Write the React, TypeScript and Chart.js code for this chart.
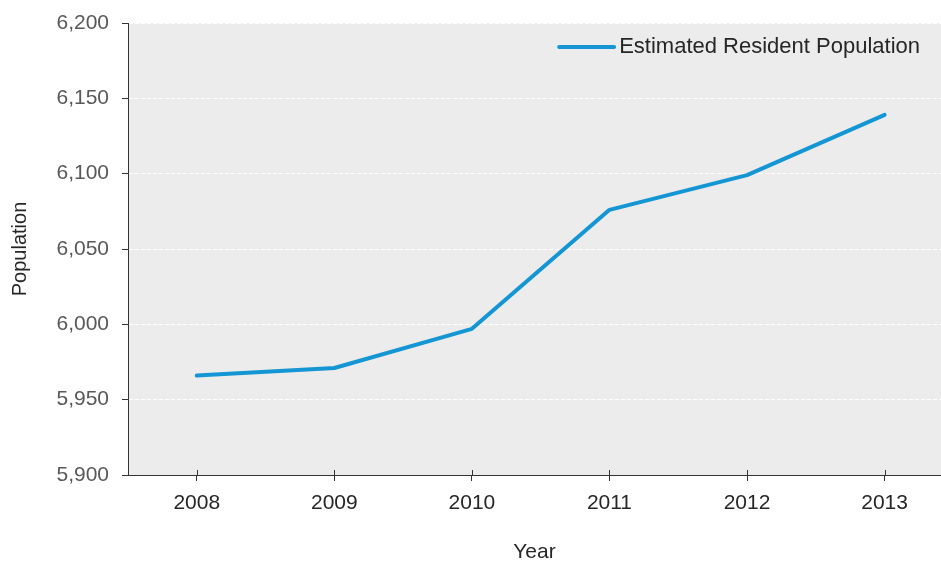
import React, { useEffect, useRef } from "react";
import { Chart, registerables } from "chart.js";

Chart.register(...registerables);

const years: number[] = [2008, 2009, 2010, 2011, 2012, 2013];
const population: number[] = [5966, 5971, 5997, 6076, 6099, 6139];
const seriesLabel = "Estimated Resident Population";
const yMin = 5900;
const yMax = 6200;
const yStep = 50;

const FONT = "'Liberation Sans', Arial, Helvetica, sans-serif";
const LINE_COLOR = "#1496d4";

const bgPlugin = {
  id: "plotBg",
  beforeDraw(chart: any) {
    const { ctx, chartArea } = chart;
    ctx.save();
    ctx.fillStyle = "#ececec";
    ctx.fillRect(chartArea.left, chartArea.top, chartArea.right - chartArea.left, chartArea.bottom - chartArea.top);
    ctx.restore();
  },
  afterDraw(chart: any) {
    const { ctx, chartArea } = chart;
    const xs = chart.scales.x;
    ctx.save();
    // inner halves of x ticks
    ctx.strokeStyle = "#333333";
    ctx.lineWidth = 1;
    ctx.beginPath();
    for (const t of xs.ticks) {
      const px = Math.round(xs.getPixelForValue(t.value)) + 0.5;
      ctx.moveTo(px, chartArea.bottom - 5);
      ctx.lineTo(px, chartArea.bottom);
    }
    ctx.stroke();
    // legend
    const label = chart.data.datasets[0].label;
    ctx.font = `22px ${FONT}`;
    ctx.textBaseline = "middle";
    ctx.textAlign = "left";
    const tw = ctx.measureText(label).width;
    const textRight = chartArea.right - 21;
    const textLeft = textRight - tw;
    const cy = chartArea.top + 24;
    ctx.strokeStyle = LINE_COLOR;
    ctx.lineWidth = 4;
    ctx.lineCap = "round";
    ctx.beginPath();
    ctx.moveTo(textLeft - 60, cy);
    ctx.lineTo(textLeft - 5, cy);
    ctx.stroke();
    ctx.fillStyle = "#262626";
    ctx.fillText(label, textLeft, cy);
    ctx.restore();
  },
};

export default function App() {
  const ref = useRef<HTMLCanvasElement | null>(null);
  useEffect(() => {
    document.body.style.margin = "0";
    const canvas = ref.current;
    if (!canvas) return;
    const chart = new Chart(canvas, {
      type: "line",
      data: {
        datasets: [
          {
            label: seriesLabel,
            data: years.map((y, i) => ({ x: y, y: population[i] })),
            borderColor: LINE_COLOR,
            backgroundColor: LINE_COLOR,
            borderWidth: 4,
            borderCapStyle: "round",
            borderJoinStyle: "round",
            pointRadius: 0,
            tension: 0,
            fill: false,
          },
        ],
      },
      options: {
        responsive: false,
        animation: false,
        layout: { padding: { top: 23, right: 0, left: 0, bottom: 0 } },
        plugins: {
          tooltip: { enabled: false },
          legend: { display: false },
        },
        scales: {
          x: {
            type: "linear",
            min: 2007.5,
            max: 2013.41,
            afterBuildTicks: (scale: any) => {
              scale.ticks = years.map((v) => ({ value: v }));
            },
            afterFit: (scale: any) => {
              scale.height = 90;
              scale.paddingLeft = 0;
              scale.paddingRight = 0;
            },
            border: { display: true, color: "#333333", width: 1 },
            grid: {
              drawOnChartArea: false,
              drawTicks: true,
              tickLength: 6,
              tickColor: "#333333",
            },
            ticks: {
              padding: 10,
              color: "#262626",
              font: { family: FONT, size: 21 },
              callback: (v: any) => String(v),
            },
            title: {
              display: true,
              text: "Year",
              color: "#262626",
              font: { family: FONT, size: 21 },
              padding: { top: 0, bottom: 0 },
            },
          },
          y: {
            min: yMin,
            max: yMax,
            afterFit: (scale: any) => {
              scale.width = 128;
              scale.paddingTop = 0;
              scale.paddingBottom = 0;
            },
            border: { display: true, color: "#333333", width: 1, dash: [4, 2] },
            grid: {
              color: "#ffffff",
              lineWidth: 1,
              tickColor: "#333333",
              tickBorderDash: [],
              tickLength: 6,
              drawTicks: true,
            },
            ticks: {
              stepSize: yStep,
              padding: 13,
              color: "#595959",
              font: { family: FONT, size: 21 },
              callback: (v: any) => Number(v).toLocaleString("en-US"),
            },
            title: {
              display: true,
              text: "Population",
              color: "#262626",
              font: { family: FONT, size: 20 },
              padding: { top: 8, bottom: 0 },
            },
          },
        },
      },
      plugins: [bgPlugin],
    } as any);
    return () => chart.destroy();
  }, []);
  return (
    <div style={{ width: 941, height: 565 }}>
      <canvas ref={ref} width={941} height={565} style={{ display: "block" }} />
    </div>
  );
}
